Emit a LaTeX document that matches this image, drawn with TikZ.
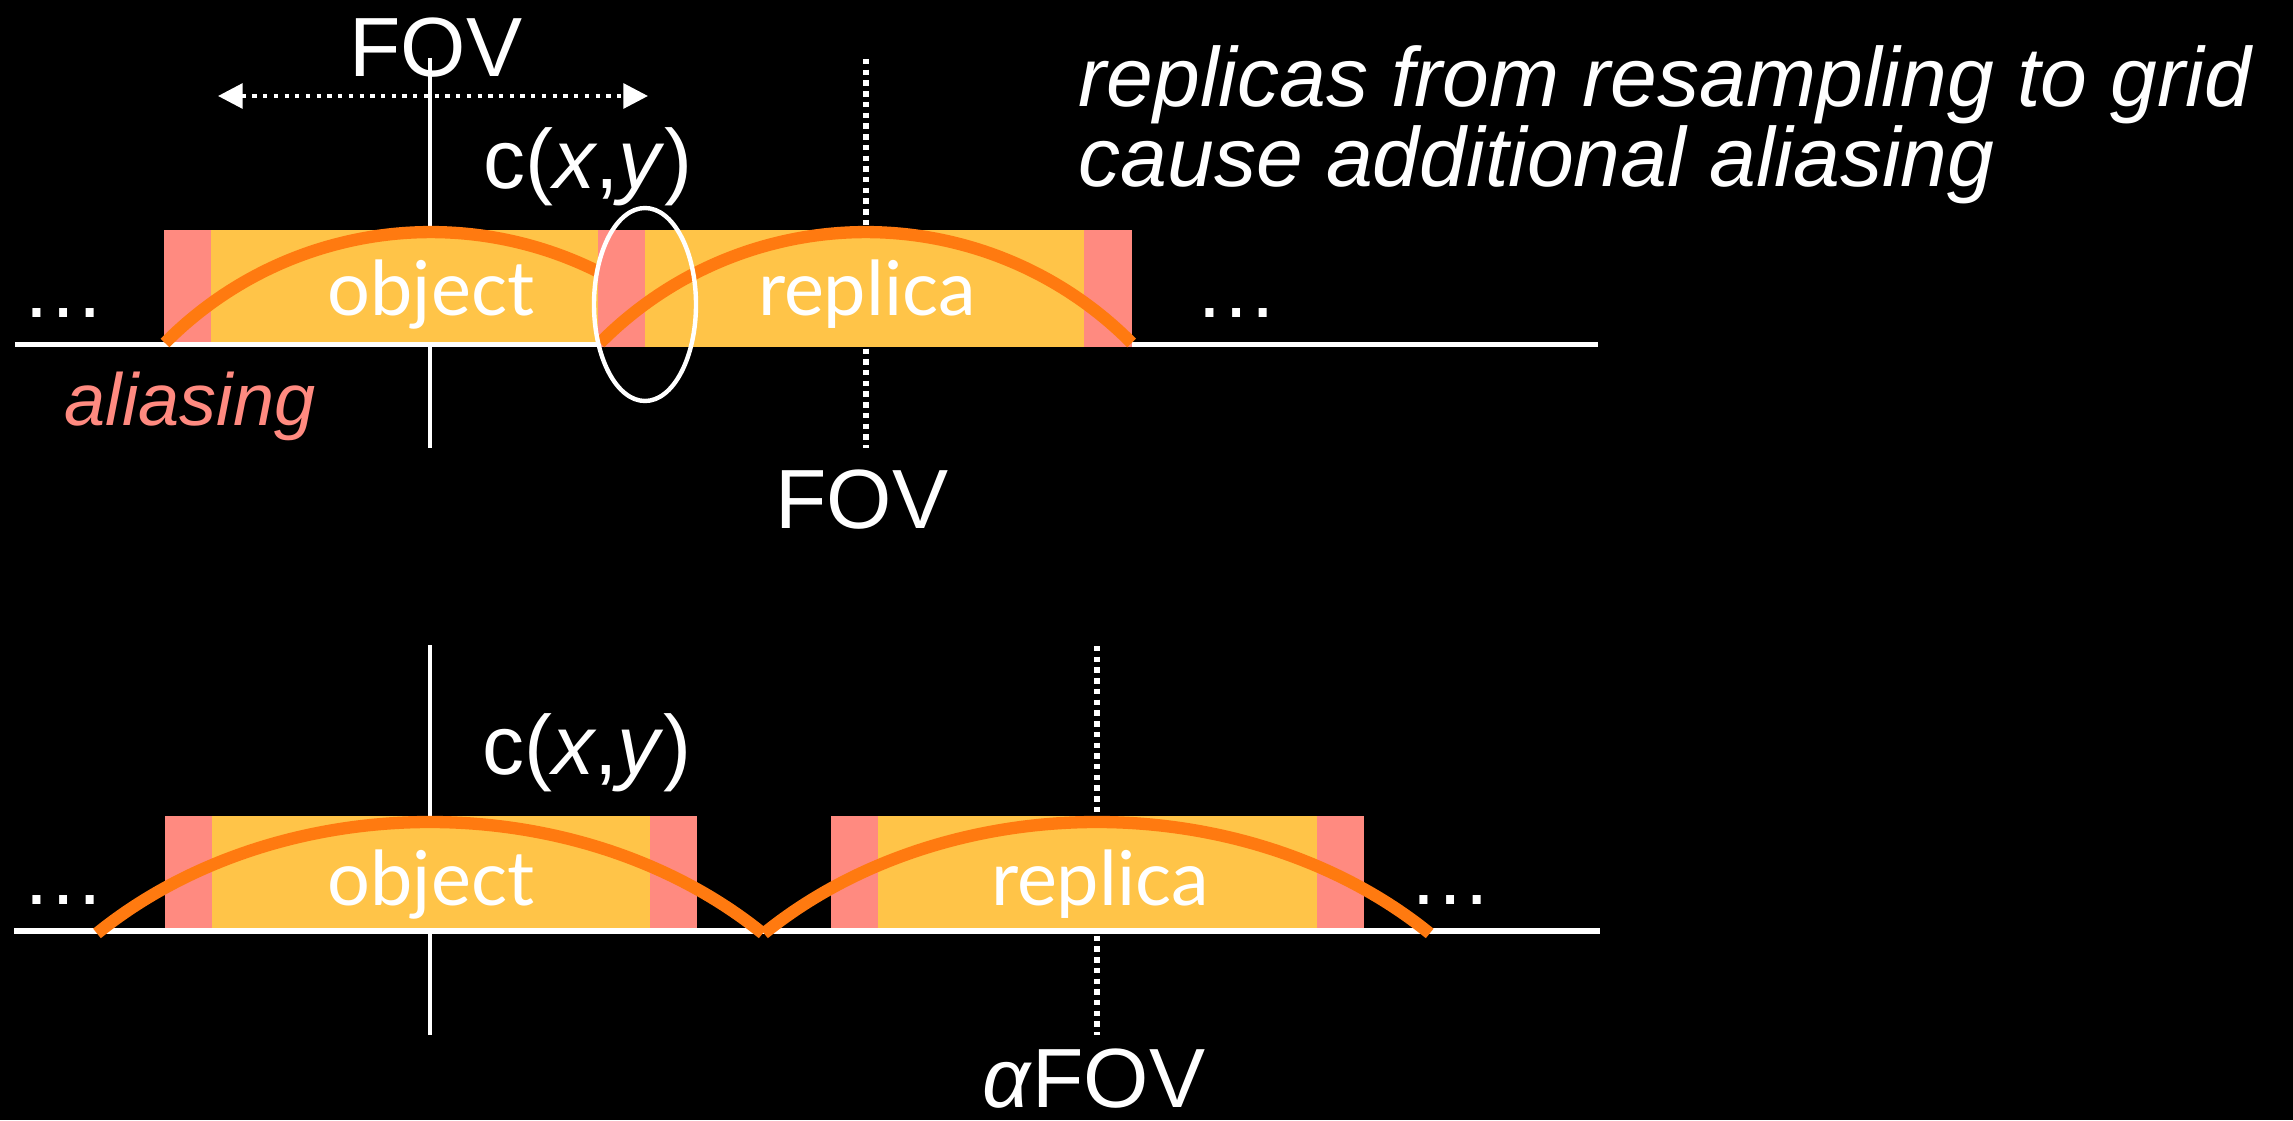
\documentclass[tikz,border=0pt]{standalone}
\usepackage{fontspec}
\setmainfont{Liberation Sans}
\newfontfamily\gillfont{Lato}
\usetikzlibrary{arrows.meta}
\definecolor{boxyellow}{RGB}{255,196,72}
\definecolor{aliaspink}{RGB}{255,138,128}
\definecolor{arcorange}{RGB}{255,122,16}
\tikzset{
  bigtext/.style={inner sep=0pt, text=white, font=\fontsize{23.9}{28}\selectfont},
  pinktext/.style={inner sep=0pt, text=aliaspink, font=\fontsize{21}{25}\selectfont\itshape},
  boxlabel/.style={inner sep=0pt, text=white, font=\gillfont\fontsize{21.5}{25}\selectfont},
  axisline/.style={draw=white, line width=0.9pt},
  dotline/.style={draw=white, line width=1.5pt, dash pattern=on 1.55pt off 1.5pt},
  baseline/.style={draw=white, line width=1.6pt},
  arcline/.style={draw=arcorange, line width=3.5pt, line cap=butt},
  yellowpart/.style={fill=boxyellow},
  pinkpart/.style={fill=aliaspink},
}
\begin{document}
\begin{tikzpicture}[x=0.01cm, y=0.01cm]
\fill[black] (0,0) rectangle (2293,1120);
\useasboundingbox (0,0) rectangle (2293,1120);

% ---------- top panel ----------
\coordinate (tAxTop) at (430,1062);
\coordinate (tAxBot) at (430,672);
\coordinate (tDotTop) at (866,1061);
\coordinate (tDotBot) at (866,672);
\draw[axisline] (tAxTop) -- (tAxBot);
\draw[dotline] (tDotTop) -- (tDotBot);

% object box
\fill[pinkpart] (164,773) rectangle (211,890);
\fill[yellowpart] (211,773) rectangle (598,890);
% baseline
\coordinate (tBaseL) at (15,775.5);
\coordinate (tBaseR) at (1598,775.5);
\draw[baseline] (tBaseL) -- (tBaseR);
% object arc
\coordinate (tObjStart) at (165,777);
\draw[arcline] (tObjStart) arc[start angle=135.3, end angle=44.7, radius=374];
% replica box
\fill[pinkpart] (598,773) rectangle (645,890);
\fill[yellowpart] (645,773) rectangle (1084,890);
\fill[pinkpart] (1084,773) rectangle (1132,890);
% replica arc
\coordinate (tRepStart) at (600,777);
\draw[arcline] (tRepStart) arc[start angle=135.3, end angle=44.7, radius=374];
% ellipse
\coordinate (ovalC) at (645,815.5);
\draw[white, line width=1.25pt] (ovalC) ellipse[x radius=51, y radius=96.5];

% FOV arrow
\coordinate (fovL) at (218,1024);
\coordinate (fovR) at (648,1024);
\draw[white, line width=1.15pt, dash pattern=on 1.2pt off 1.85pt,
  {Triangle[length=7pt,width=7pt]}-{Triangle[length=7pt,width=7pt]}] (fovL) -- (fovR);

% texts
\node[bigtext, anchor=base] (fovTop) at (436,1044) {FOV};
\node[bigtext, anchor=base] (cTop) at (588,932) {c(\textit{x},\textit{y})};
\node[boxlabel, anchor=base] (objTop) at (431,805) {object};
\node[boxlabel, anchor=base] (repTop) at (867,805) {replica};
\node[bigtext, anchor=base] (dotsTL) at (64,803) {…};
\node[bigtext, anchor=base] (dotsTR) at (1237,803) {…};
\node[pinktext, anchor=base] (alias) at (190,695) {aliasing};
\node[bigtext, anchor=base] (fovMid) at (862,592) {FOV};
\node[bigtext, anchor=base west, font=\fontsize{23.9}{28}\selectfont\itshape] (note1) at (1078,1013) {replicas from resampling to grid};
\node[bigtext, anchor=base west, font=\fontsize{23.9}{28}\selectfont\itshape] (note2) at (1078,933) {cause additional aliasing};

% ---------- bottom panel ----------
\coordinate (bAxTop) at (430,475);
\coordinate (bAxBot) at (430,85);
\coordinate (bDotTop) at (1097,474);
\coordinate (bDotBot) at (1097,85);
\draw[axisline] (bAxTop) -- (bAxBot);
\draw[dotline] (bDotTop) -- (bDotBot);

\fill[pinkpart] (165,192) rectangle (212,304);
\fill[yellowpart] (212,192) rectangle (650,304);
\fill[pinkpart] (650,192) rectangle (697,304);
\fill[pinkpart] (831,192) rectangle (878,304);
\fill[yellowpart] (878,192) rectangle (1317,304);
\fill[pinkpart] (1317,192) rectangle (1364,304);

\coordinate (bBaseL) at (14,189);
\coordinate (bBaseR) at (1600,189);
\draw[baseline] (bBaseL) -- (bBaseR);

\coordinate (bObjStart) at (97,186.6);
\coordinate (bRepStart) at (764,186.6);
\draw[arcline] (bObjStart) arc[start angle=135.4, end angle=44.6, x radius=467.5, y radius=374];
\draw[arcline] (bRepStart) arc[start angle=135.4, end angle=44.6, x radius=467.5, y radius=374];

\node[bigtext, anchor=base] (cBot) at (587,346) {c(\textit{x},\textit{y})};
\node[boxlabel, anchor=base] (objBot) at (431,215) {object};
\node[boxlabel, anchor=base] (repBot) at (1100,215) {replica};
\node[bigtext, anchor=base] (dotsBL) at (64,216) {…};
\node[bigtext, anchor=base] (dotsBR) at (1451,216) {…};
\node[bigtext, anchor=base] (afov) at (1094,13) {\textit{α}FOV};
\end{tikzpicture}
\end{document}
